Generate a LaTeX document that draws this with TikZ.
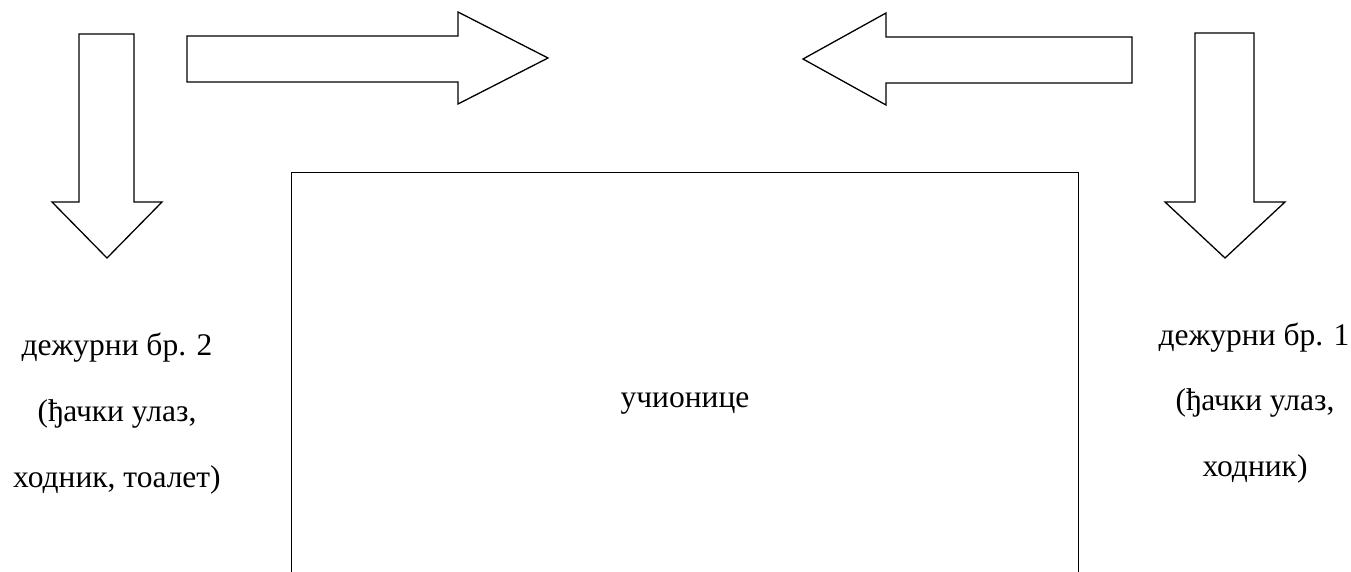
\documentclass[tikz,border=0pt]{standalone}
\usepackage{fontspec}
\setmainfont{Liberation Serif}
\begin{document}
\begin{tikzpicture}[x=1pt,y=-1pt,
  blockarrow/.style={draw=black,line width=1.3pt,line join=miter,fill=white},
  room/.style={draw=black,line width=1pt},
  lbl/.style={anchor=base,inner sep=0pt,font=\fontsize{31.5}{36}\selectfont}]
\useasboundingbox (0,0) rectangle (1351,572);
% down arrow left
\draw[blockarrow] (79,34) -- (134,34) -- (134,202) -- (162,202) -- (107,258) -- (52,202) -- (79,202) -- cycle;
% right-pointing arrow
\draw[blockarrow] (187,36) -- (458,36) -- (458,12) -- (548,58) -- (458,104) -- (458,82) -- (187,82) -- cycle;
% left-pointing arrow
\draw[blockarrow] (1132,37) -- (886,37) -- (886,13) -- (803,59) -- (886,105) -- (886,83) -- (1132,83) -- cycle;
% down arrow right
\draw[blockarrow] (1195,33) -- (1254,33) -- (1254,202) -- (1285,202) -- (1225,258) -- (1165,202) -- (1195,202) -- cycle;
% classrooms
\draw[room] (291,580) -- (291,173) -- (1078,173) -- (1078,580);
\node[lbl] (room) at (685,407) {учионице};
% duty 2
\node[lbl] (d2a) at (117,355) {дежурни бр. 2};
\node[lbl] (d2b) at (117,421) {(ђачки улаз,};
\node[lbl] (d2c) at (117,487) {ходник, тоалет)};
% duty 1
\node[lbl] (d1a) at (1254,345) {дежурни бр. 1};
\node[lbl] (d1b) at (1255,410) {(ђачки улаз,};
\node[lbl] (d1c) at (1255,476) {ходник)};
\end{tikzpicture}
\end{document}
